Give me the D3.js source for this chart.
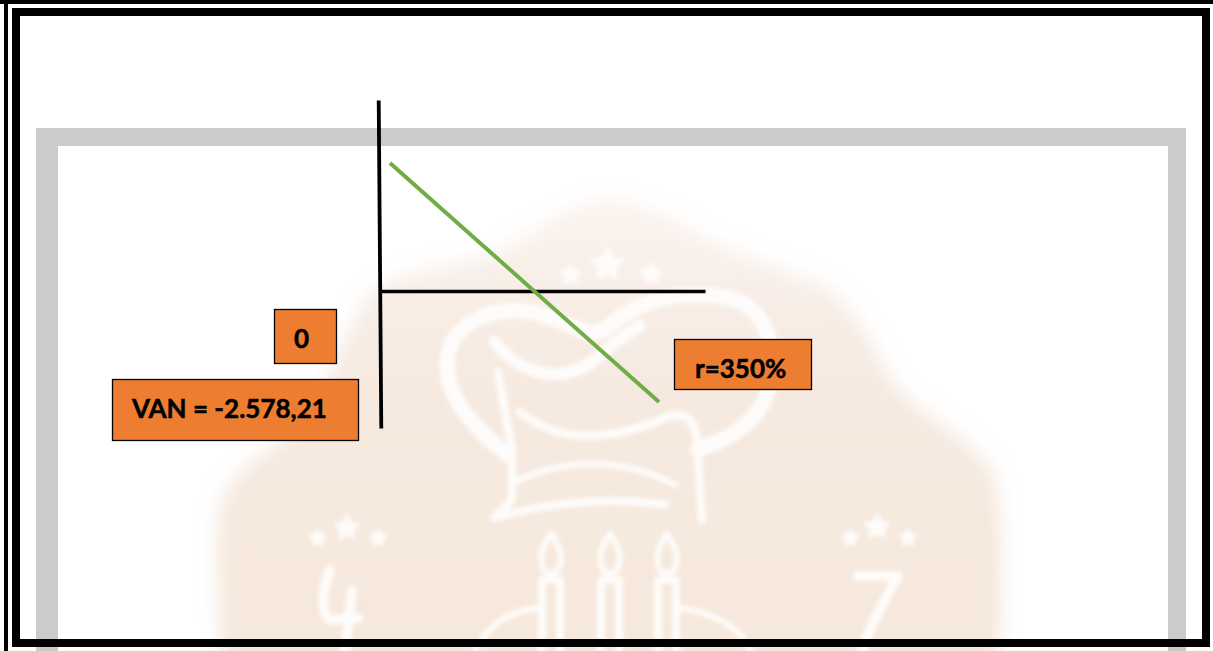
<!DOCTYPE html>
<html>
<head>
<meta charset="utf-8">
<script src="https://cdn.jsdelivr.net/npm/d3@7"></script>
<style>
html, body { margin: 0; padding: 0; background: #fff; overflow: hidden; }
svg { display: block; }
.label { font-family: Lato, sans-serif; font-weight: 700; font-size: 26px; fill: #000; stroke: #000; stroke-width: 0.5px; }
</style>
</head>
<body>
<svg id="chart"></svg>
<script>
// values
var rates = [12.5, 350];
var vanValues = [2973, -2578.21];
var rateDomain = [0, 407.7];
var vanDomain = [-3182, 4436];
var labelTexts = ["0", "VAN = -2.578,21", "r=350%"];

var width = 1213,
	height = 651;

var svg = d3.select("#chart")
	.attr("width", width)
	.attr("height", height);

var defs = svg.append("defs");
defs.append("filter").attr("id", "soft")
	.append("feGaussianBlur").attr("stdDeviation", 0.7);
defs.append("filter").attr("id", "softer")
	.attr("x", "-10%").attr("y", "-10%").attr("width", "120%").attr("height", "120%")
	.append("feGaussianBlur").attr("stdDeviation", 9);
defs.append("filter").attr("id", "hatblur")
	.append("feGaussianBlur").attr("stdDeviation", 2);
var fade = defs.append("linearGradient").attr("id", "fade")
	.attr("x1", 0).attr("y1", 0).attr("x2", 0).attr("y2", 1);
fade.append("stop").attr("offset", "0%").attr("stop-color", "#faf3ee");
fade.append("stop").attr("offset", "35%").attr("stop-color", "#f6eae1");
fade.append("stop").attr("offset", "100%").attr("stop-color", "#f5e7db");

// watermark behind the chart
var mark = svg.append("g");

mark.append("path")
	.attr("d", "M590,203 C560,212 520,245 480,258 C440,270 395,270 370,295 C345,325 330,385 300,425 C270,455 225,465 218,520 C214,570 222,620 222,680 L998,680 C1002,600 1004,530 996,480 C980,440 925,420 895,385 C870,345 855,300 820,285 C780,265 730,255 690,230 C655,210 620,198 590,203 Z")
	.attr("fill", "url(#fade)")
	.attr("filter", "url(#softer)");

var whiteStrokes = mark.append("g")
	.attr("fill", "none")
	.attr("stroke", "#fefcfa")
	.attr("stroke-linecap", "round")
	.attr("stroke-linejoin", "round")
	.attr("filter", "url(#hatblur)");

// chef hat
whiteStrokes.append("path").attr("stroke-width", 15)
	.attr("d", "M508,455 C470,425 445,395 447,360 C450,325 490,305 530,312 C570,320 590,345 610,325 C640,300 680,290 725,297 C770,305 775,350 770,385 C760,425 725,440 698,450");
whiteStrokes.append("path").attr("stroke-width", 12)
	.attr("d", "M495,342 C520,375 560,385 595,360 C610,345 625,335 640,325");
whiteStrokes.append("path").attr("stroke-width", 8)
	.attr("d", "M520,412 C560,445 610,440 660,420 C680,410 695,415 697,440 L702,520");
whiteStrokes.append("path").attr("stroke-width", 8)
	.attr("d", "M498,372 L512,450 L512,500 L494,518 C540,505 600,495 665,505");
whiteStrokes.append("path").attr("stroke-width", 6)
	.attr("d", "M515,482 C560,460 620,455 675,485");
// candles
[551, 610, 667].forEach(function(x) {
	whiteStrokes.append("path").attr("stroke-width", 8)
		.attr("d", "M" + (x - 9) + ",651 L" + (x - 9) + ",580 M" + (x + 9) + ",651 L" + (x + 9) + ",580 M" + (x - 9) + ",580 L" + (x + 9) + ",580");
	whiteStrokes.append("path").attr("stroke-width", 6)
		.attr("d", "M" + x + ",534 C" + (x - 14) + ",552 " + (x - 12) + ",572 " + x + ",574 C" + (x + 12) + ",572 " + (x + 14) + ",552 " + x + ",534 Z");
});
whiteStrokes.append("path").attr("stroke-width", 6).attr("d", "M475,651 C490,620 515,610 540,608 M680,608 C710,612 740,625 750,651");
// numbers at the sides
whiteStrokes.append("path").attr("stroke-width", 10).attr("d", "M330,570 C322,590 320,610 330,620 L358,618 M352,590 L345,651");
whiteStrokes.append("path").attr("stroke-width", 10).attr("d", "M858,576 L898,576 C885,600 870,625 862,651");

// stars
function star(cx, cy, r) {
	var pts = d3.range(10).map(function(i) {
		var a = -Math.PI / 2 + i * Math.PI / 5,
			rr = i % 2 ? r * 0.5 : r;
		return [cx + rr * Math.cos(a), cy + rr * Math.sin(a)];
	});
	return "M" + pts.join("L") + "Z";
}
[[570, 275, 13], [607, 265, 19], [651, 274, 13], [318, 538, 11], [347, 528, 15], [378, 538, 11], [850, 538, 11], [877, 527, 15], [908, 538, 11]].forEach(function(s) {
	mark.append("path")
		.attr("d", star(s[0], s[1], s[2]))
		.attr("fill", "#fefcfa")
		.attr("filter", "url(#hatblur)");
});

// grey frame of the pasted page
var greyFrame = svg.append("g").attr("fill", "#cbcbcb").attr("filter", "url(#soft)");
greyFrame.append("rect").attr("x", 36).attr("y", 128).attr("width", 1150).attr("height", 18);
greyFrame.append("rect").attr("x", 36).attr("y", 128).attr("width", 22).attr("height", 540);
greyFrame.append("rect").attr("x", 1168).attr("y", 128).attr("width", 18).attr("height", 540);

// page borders
var border = svg.append("g").attr("fill", "#000");
border.append("rect").attr("x", 0).attr("y", 0).attr("width", width).attr("height", 4);
border.append("rect").attr("x", 4).attr("y", 0).attr("width", 4).attr("height", height);
border.append("rect").attr("x", 12).attr("y", 8).attr("width", 1198).attr("height", 8);
border.append("rect").attr("x", 12).attr("y", 8).attr("width", 8).attr("height", 639);
border.append("rect").attr("x", 1202).attr("y", 8).attr("width", 8).attr("height", 639);
border.append("rect").attr("x", 12).attr("y", 639).attr("width", 1198).attr("height", 8);

// chart
var xScale = d3.scaleLinear().domain(rateDomain).range([380, 705]);
var yScale = d3.scaleLinear().domain(vanDomain).range([428, 100]);

var xAxis = d3.axisBottom(xScale).tickValues([]).tickSize(0);
var yAxis = d3.axisLeft(yScale).tickValues([]).tickSize(0);

var gx = svg.append("g")
	.attr("transform", "translate(0," + yScale(0) + ")")
	.call(xAxis);
gx.select(".domain").attr("stroke", "#000").attr("stroke-width", 3.5);

var gy = svg.append("g")
	.attr("transform", "translate(379.5,0) rotate(-0.45 0 264)")
	.call(yAxis);
gy.select(".domain").attr("stroke", "#000").attr("stroke-width", 3.8);

var line = d3.line()
	.x(function(d) { return xScale(d); })
	.y(function(d, i) { return yScale(vanValues[i]); });

svg.append("path")
	.datum(rates)
	.attr("d", line)
	.attr("fill", "none")
	.attr("stroke", "#70ad47")
	.attr("stroke-width", 4);

// label boxes
var boxes = svg.selectAll(".box")
	.data(labelTexts)
	.enter().append("g")
	.attr("class", "box");

var boxX = [274.5, 112.5, 674.5],
	boxY = [309.5, 379.5, 339.5],
	boxW = [62, 246, 137],
	boxH = [54, 61, 50],
	textX = [294, 132, 695],
	textY = [348, 418, 378];

boxes.append("rect")
	.attr("x", function(d, i) { return boxX[i]; })
	.attr("y", function(d, i) { return boxY[i]; })
	.attr("width", function(d, i) { return boxW[i]; })
	.attr("height", function(d, i) { return boxH[i]; })
	.attr("fill", "#ed7d31")
	.attr("stroke", "#000")
	.attr("stroke-width", 1.3);

boxes.append("text")
	.attr("class", "label")
	.attr("x", function(d, i) { return textX[i]; })
	.attr("y", function(d, i) { return textY[i]; })
	.text(function(d) { return d; });
</script>
</body>
</html>
